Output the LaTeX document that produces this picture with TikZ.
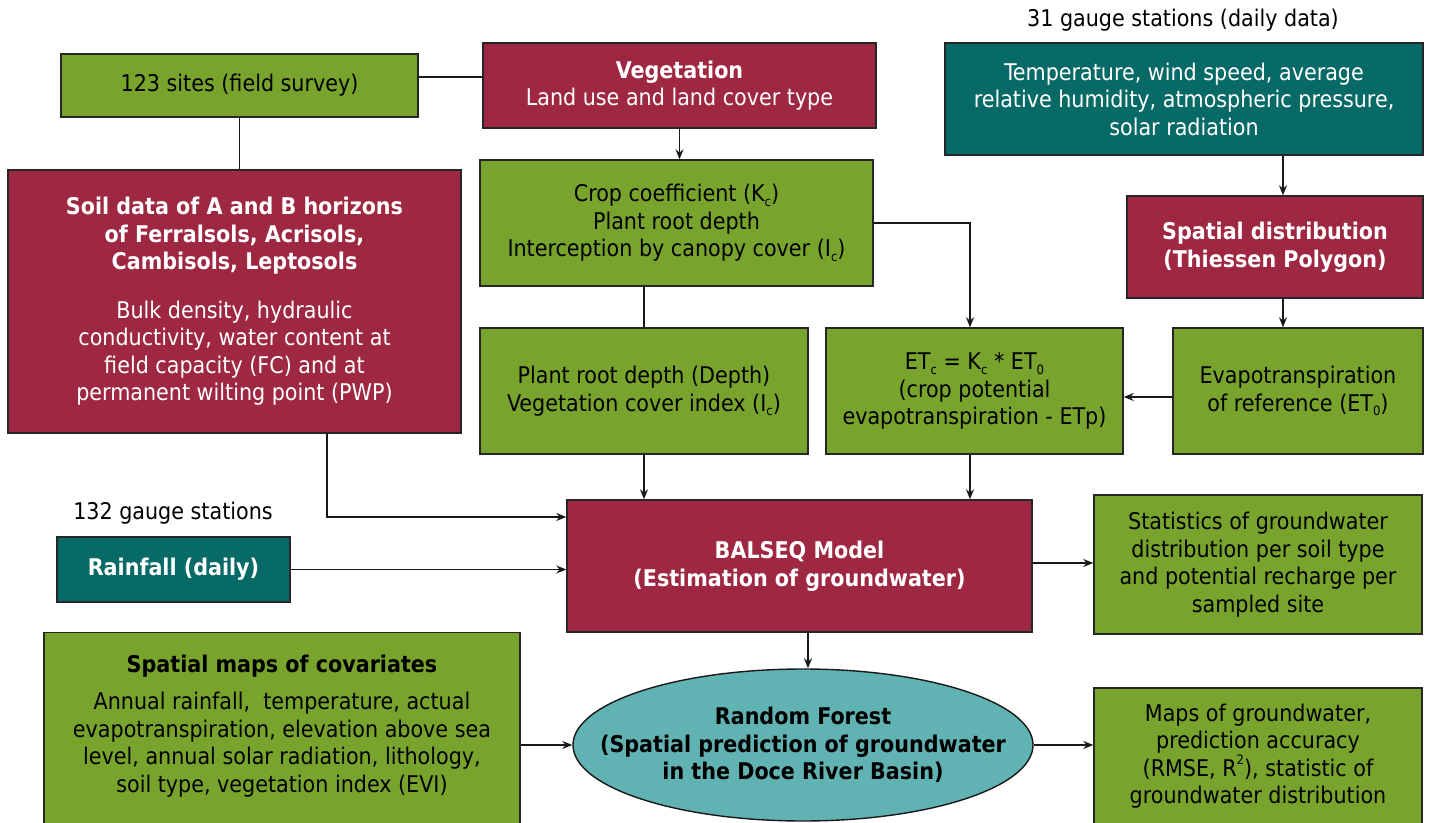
\documentclass[tikz,border=0pt]{standalone}
\usepackage{fontspec}
\setmainfont{DejaVu Sans Condensed}
\usepackage{tikz}
\usetikzlibrary{arrows.meta,shapes.geometric}

\definecolor{vgreen}{RGB}{120,164,46}
\definecolor{vred}{RGB}{158,40,66}
\definecolor{vteal}{RGB}{8,106,102}
\definecolor{lteal}{RGB}{96,179,178}

% small sub- and superscripts
\newcommand{\lowidx}[1]{\raisebox{-0.35ex}{\fontsize{6.5pt}{7pt}\selectfont #1}}
\newcommand{\upidx}[1]{\raisebox{0.95ex}{\fontsize{6.5pt}{7pt}\selectfont #1}}

\tikzset{
  box/.style={draw=black!85, line width=0.7pt, rectangle, align=center, inner sep=0pt},
  greenbox/.style={box, fill=vgreen, text=black},
  redbox/.style={box, fill=vred, text=white},
  tealbox/.style={box, fill=vteal, text=white},
  link/.style={draw=black!90, line width=0.65pt},
  arrow/.style={link, -{Stealth[length=5pt,width=4pt]}}
}

\begin{document}
\begin{tikzpicture}[x=0.5pt,y=-0.5pt,font=\fontsize{11.5pt}{13.75pt}\selectfont]
\useasboundingbox (0,0) rectangle (1430,823);
\clip (0,0) rectangle (1430,823);

% top row
\node[greenbox, minimum width=178.5pt, minimum height=31.5pt] (sites) at (239.5,85.5) {123 sites (field survey)};
\node[redbox, minimum width=196.5pt, minimum height=42.5pt] (veg) at (679.5,85.5) {\textbf{Vegetation}\\Land use and land cover type};
\node (lbltemp) at (1183,20) {31 gauge stations (daily data)};
\node[tealbox, minimum width=239pt, minimum height=56pt] (temp) at (1184,99) {Temperature, wind speed, average\\relative humidity, atmospheric pressure,\\solar radiation};

% second row
\node[redbox, minimum width=226.5pt, minimum height=131.5pt] (soil) at (234.5,301.5) {\textbf{Soil data of A and B horizons}\\\textbf{of Ferralsols, Acrisols,}\\\textbf{Cambisols, Leptosols}\\[10.5pt]Bulk density, hydraulic\\conductivity, water content at\\field capacity (FC) and at\\permanent wilting point (PWP)};
\node[greenbox, minimum width=196.5pt, minimum height=63pt] (crop) at (676.5,223) {Crop coefficient (K\lowidx{c})\\Plant root depth\\Interception by canopy cover (I\lowidx{c})};
\node[redbox, minimum width=148pt, minimum height=51pt] (spat) at (1275,247) {\textbf{Spatial distribution}\\\textbf{(Thiessen Polygon)}};

% third row
\node[greenbox, minimum width=164pt, minimum height=63pt] (plant) at (644,391) {Plant root depth (Depth)\\Vegetation cover index (I\lowidx{c})};
\node[greenbox, minimum width=148.5pt, minimum height=63pt] (etc) at (974.5,391) {ET\lowidx{c} = K\lowidx{c} * ET\lowidx{0}\\(crop potential\\evapotranspiration - ETp)};
\node[greenbox, minimum width=125pt, minimum height=63pt] (evref) at (1298,391) {Evapotranspiration\\of reference (ET\lowidx{0})};

% model
\node (lblrain) at (173,513) {132 gauge stations};
\node[tealbox, minimum width=116.5pt, minimum height=32.5pt] (rain) at (173.5,569.5) {\textbf{Rainfall (daily)}};
\node[redbox, minimum width=232.5pt, minimum height=66pt] (balseq) at (799.5,566) {\textbf{BALSEQ Model}\\\textbf{(Estimation of groundwater)}};
\node[greenbox, minimum width=164pt, minimum height=69.5pt] (stats) at (1258,564.5) {Statistics of groundwater\\distribution per soil type\\and potential recharge per\\sampled site};

% prediction
\node[greenbox, minimum width=238pt, minimum height=120pt, anchor=north] (cov) at (282,632) {};
\node[align=center] (covtext) at (282,726) {\textbf{Spatial maps of covariates}\\[5pt]Annual rainfall,\ \ temperature, actual\\evapotranspiration, elevation above sea\\level, annual solar radiation, lithology,\\soil type, vegetation index (EVI)};
\node[ellipse, draw=black!90, line width=0.7pt, fill=lteal, inner sep=0pt, minimum width=230pt, minimum height=76pt] (rf) at (803,745) {};
\node[align=center] (rftext) at (rf.center) {\textbf{Random Forest}\\\textbf{(Spatial prediction of groundwater}\\\textbf{in the Doce River Basin)}};
\node[greenbox, minimum width=164pt, minimum height=68pt] (maps) at (1258,756) {Maps of groundwater,\\prediction accuracy\\(RMSE, R\upidx{2}), statistic of\\groundwater distribution};

% connectors
\draw[link] (sites.east |- 0,77) -- (veg.west |- 0,77);
\draw[link] (sites.south) -- (sites.south |- soil.north);
\draw[arrow] (veg.south) -- (veg.south |- crop.north);
\draw[link] (plant.north |- crop.south) -- (plant.north);
\draw[arrow] (crop.east) -| (etc.north -| 970,0);
\draw[arrow] (temp.south -| 1283,0) -- (spat.north -| 1283,0);
\draw[arrow] (spat.south -| 1283,0) -- (evref.north -| 1283,0);
\draw[arrow] (evref.west |- 0,397) -- (etc.east |- 0,397);
\draw[arrow] (plant.south) -- (plant.south |- balseq.north);
\draw[arrow] (etc.south -| 970,0) -- (balseq.north -| 970,0);
\draw[arrow] (soil.south -| 327,0) |- (balseq.west |- 0,517);
\draw[arrow] (rain.east) -- (rain.east -| balseq.west);
\draw[arrow] (balseq.east |- 0,563) -- (stats.west |- 0,563);
\draw[arrow] (balseq.south -| 808,0) -- (rf.north -| 808,0);
\draw[arrow] (cov.east |- rf.west) -- (rf.west);
\draw[arrow] (rf.east) -- (rf.east -| maps.west);
\end{tikzpicture}
\end{document}
